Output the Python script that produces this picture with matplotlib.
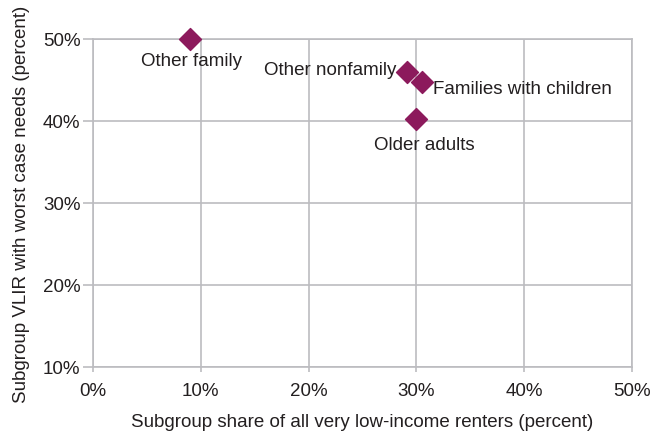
import matplotlib
matplotlib.use("Agg")
import matplotlib.pyplot as plt
from matplotlib.ticker import FuncFormatter

plt.rcParams['font.family'] = ['Liberation Sans', 'DejaVu Sans']

groups = ["Other family", "Other nonfamily", "Families with children", "Older adults"]
share = [9.0, 29.1, 30.5, 30.0]          # share of all very low-income renters (%)
worst_case = [50.0, 46.0, 44.8, 40.3]    # VLIR with worst case needs (%)

x_ticks = [0, 10, 20, 30, 40, 50]
y_ticks = [10, 20, 30, 40, 50]

# label placement relative to its marker: (dx px, dy px, ha)
label_pos = {
    "Other family": (1, -22, "center"),
    "Other nonfamily": (-10, 2, "right"),
    "Families with children": (11, -7, "left"),
    "Older adults": (8, -26, "center"),
}

grid_c = "#bcbcc0"
text_c = "#231f20"
mark_c = "#8c1a5c"
fs = 13.5

fig = plt.figure(figsize=(6.54, 4.35), dpi=100)
ax = fig.add_axes([93/654, 1-368/435, (632-93)/654, (368-40)/435])

ax.set_xlim(0, 50)
ax.set_ylim(10, 50)
ax.set_xticks(x_ticks)
ax.set_yticks(y_ticks)
pct = FuncFormatter(lambda v, p: f"{v:.0f}%")
ax.xaxis.set_major_formatter(pct)
ax.yaxis.set_major_formatter(pct)
ax.grid(True, color=grid_c, linewidth=1.2)
ax.set_axisbelow(True)
for s in ax.spines.values():
    s.set_color(grid_c)
    s.set_linewidth(1.2)
ax.tick_params(colors=grid_c, labelcolor=text_c, labelsize=fs, width=1.2)
ax.tick_params(axis='x', length=3.6, pad=7)
ax.tick_params(axis='y', length=7, pad=2)

ax.scatter(share, worst_case, marker="D", s=125, color=mark_c, zorder=3, clip_on=False)

for g, xv, yv in zip(groups, share, worst_case):
    dx, dy, ha = label_pos[g]
    ax.annotate(g, (xv, yv), xytext=(dx * 0.72, dy * 0.72), textcoords="offset points",
                ha=ha, va="center", fontsize=fs, color=text_c)

ax.set_xlabel("Subgroup share of all very low-income renters (percent)", fontsize=fs,
              color=text_c, labelpad=10)
ax.set_ylabel("Subgroup VLIR with worst case needs (percent)", fontsize=fs,
              color=text_c, labelpad=9)

fig.savefig("out.png", dpi=100)
